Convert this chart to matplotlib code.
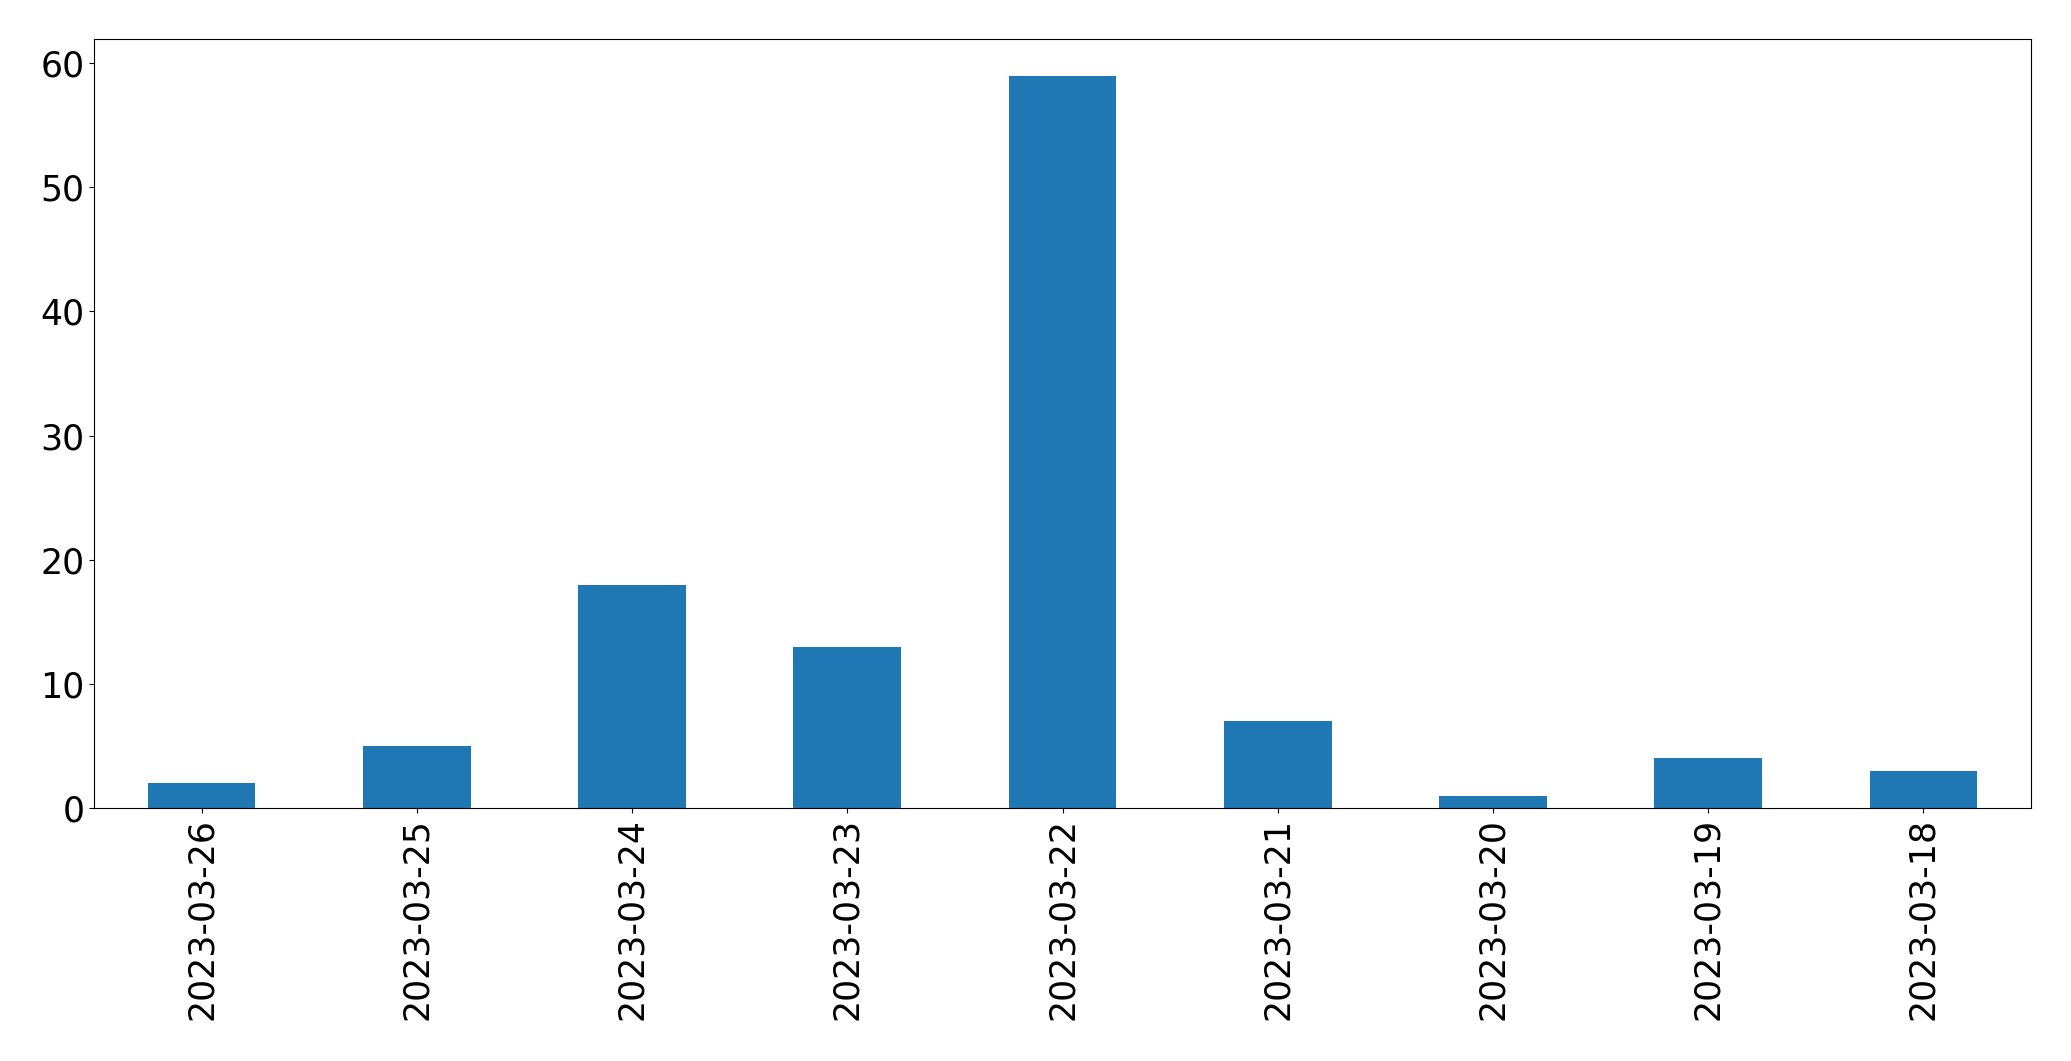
import matplotlib
matplotlib.use("Agg")
import matplotlib.pyplot as plt
import pandas as pd

# Conteo por fecha
dates = ["2023-03-26", "2023-03-25", "2023-03-24", "2023-03-23", "2023-03-22",
         "2023-03-21", "2023-03-20", "2023-03-19", "2023-03-18"]
counts = [2, 5, 18, 13, 59, 7, 1, 4, 3]

series = pd.Series(counts, index=dates)

fig = plt.figure(figsize=(20.71, 10.61), dpi=100)
ax = fig.add_axes([94 / 2071, 1 - 808 / 1061, (2031 - 94) / 2071, (808 - 39) / 1061])
series.plot(kind="bar", ax=ax, color="#1f77b4", width=0.5)
ax.tick_params(axis="both", labelsize=25)

fig.savefig("out.png", dpi=100)
